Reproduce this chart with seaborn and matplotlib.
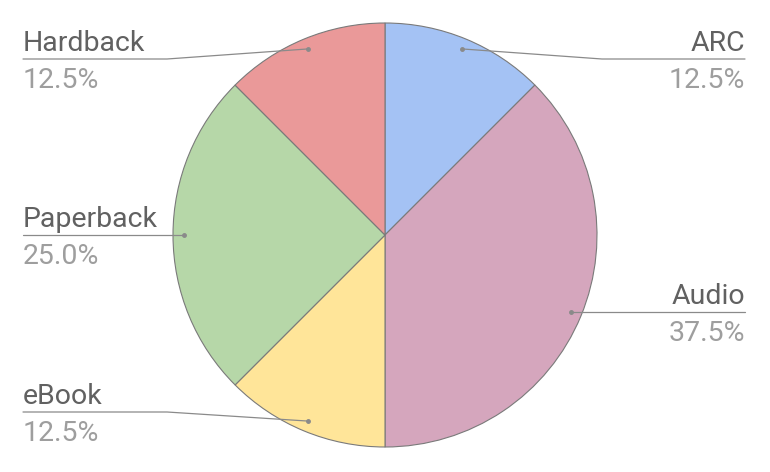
import matplotlib.pyplot as plt
import numpy as np
import seaborn as sns

# data
formats = ["ARC", "Audio", "eBook", "Paperback", "Hardback"]
shares = [12.5, 37.5, 12.5, 25.0, 12.5]
slice_colors = ["#a4c2f4", "#d5a6bd", "#ffe599", "#b6d7a8", "#ea9999"]

sns.set_style("white")
plt.rcParams["font.family"] = ["Roboto", "DejaVu Sans"]

W, H = 770, 472
fig = plt.figure(figsize=(W / 100, H / 100), dpi=100)
ax = fig.add_axes([0, 0, 1, 1])
ax.set_xlim(0, W)
ax.set_ylim(0, H)
ax.set_aspect("equal")
ax.axis("off")

cx, cy, r = 385, H - 235, 212
wedges, _ = ax.pie(shares, colors=sns.color_palette(slice_colors), startangle=90,
                   counterclock=False, center=(cx, cy), radius=r,
                   wedgeprops=dict(edgecolor="#7a7a7a", linewidth=0.8))
ax.set_xlim(0, W)
ax.set_ylim(0, H)

line_col = "#8a8a8a"
for w, name, val in zip(wedges, formats, shares):
    mid = np.deg2rad((w.theta1 + w.theta2) / 2)
    dx, dy = cx + 0.95 * r * np.cos(mid), cy + 0.95 * r * np.sin(mid)
    ly = min(max(dy, H - 412), H - 59)
    if np.cos(mid) >= 0:
        elbow, edge, ha = 602, 745, "right"
    else:
        elbow, edge, ha = 167, 23, "left"
    ax.plot([dx, elbow, edge], [dy, ly, ly], color=line_col, lw=0.9)
    ax.plot(dx, dy, "o", color=line_col, ms=2.5)
    ax.text(edge, ly + 8, name, ha=ha, va="baseline", fontsize=20.5, color="#616161")
    ax.text(edge, ly - 8, f"{val:.1f}%", ha=ha, va="top", fontsize=20.5, color="#9e9e9e")

fig.savefig("out.png", dpi=100)
